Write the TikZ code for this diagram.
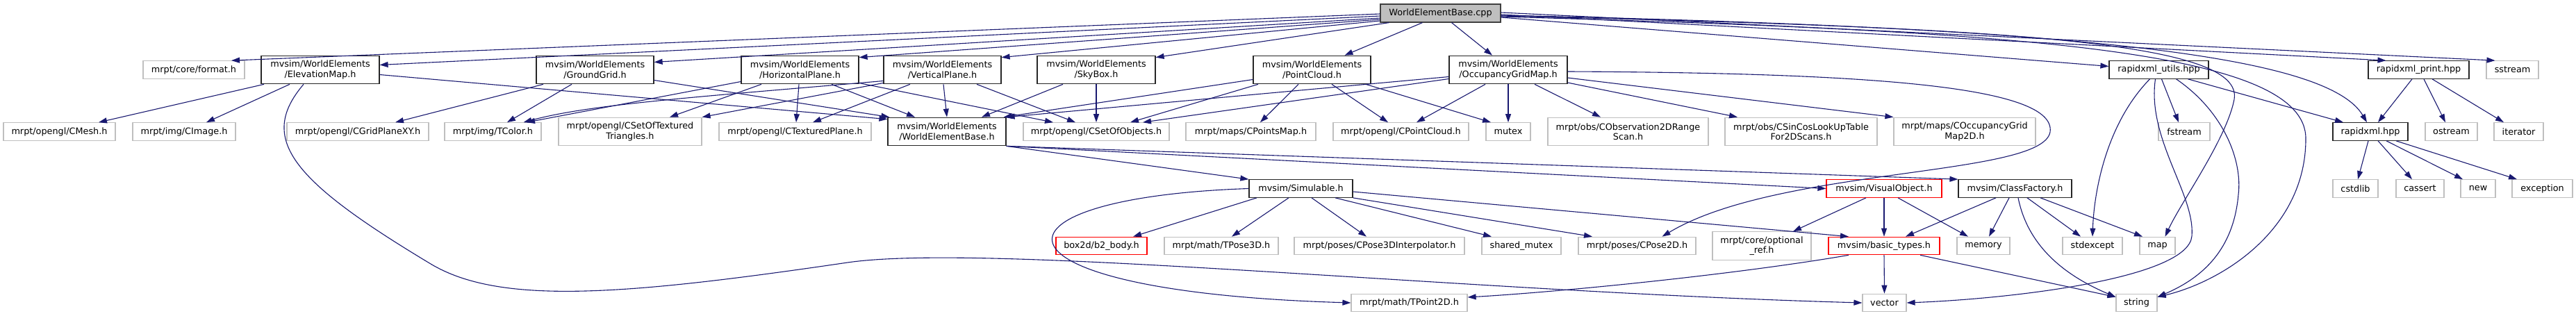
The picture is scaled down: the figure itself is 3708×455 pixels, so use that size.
\documentclass[tikz,border=0pt]{standalone}
\usepackage{fontspec}
\setmainfont{DejaVu Sans}
\usetikzlibrary{arrows.meta}
\definecolor{edgeblue}{HTML}{191970}

\begin{document}
\begin{tikzpicture}[
        x=1pt, y=-1pt,
        every node/.style={font=\fontsize{12.8}{14.5}\selectfont, inner xsep=2pt, inner ysep=1pt, align=center, line width=1.2pt},
        hdr/.style={rectangle, draw=black!85, minimum height=25.5pt},
        leaf/.style={rectangle, draw=black!25, minimum height=25.5pt},
        missing/.style={rectangle, draw=red, minimum height=25.5pt},
        root/.style={rectangle, draw=black!75, fill=black!25, minimum height=26pt},
        tall/.style={minimum height=40.5pt},
        dep/.style={-{Triangle[length=12pt,width=8pt]}, draw=edgeblue, line width=1.1pt}
    ]
        \useasboundingbox (0,0) rectangle (3708,455);

        % Nodes
        \node[root, minimum width=173pt] (cpp) at (2073.5,19) {WorldElementBase.cpp};

        \node[leaf, minimum width=146pt] (format) at (279,100.5) {mrpt/core/format.h};
        \node[hdr, tall, minimum width=170pt] (elev) at (461,100.5) {mvsim/WorldElements\\/ElevationMap.h};
        \node[hdr, tall, minimum width=169pt] (ground) at (856.5,100.5) {mvsim/WorldElements\\/GroundGrid.h};
        \node[hdr, tall, minimum width=169pt] (hplane) at (1151.5,100.5) {mvsim/WorldElements\\/HorizontalPlane.h};
        \node[hdr, tall, minimum width=169pt] (vplane) at (1356.5,100.5) {mvsim/WorldElements\\/VerticalPlane.h};
        \node[hdr, tall, minimum width=170pt] (skybox) at (1578,100.5) {mvsim/WorldElements\\/SkyBox.h};
        \node[hdr, tall, minimum width=169pt] (pcloud) at (1888.5,100.5) {mvsim/WorldElements\\/PointCloud.h};
        \node[hdr, tall, minimum width=170pt] (ogmap) at (2171,100.5) {mvsim/WorldElements\\/OccupancyGridMap.h};
        \node[hdr, minimum width=143pt] (rxutils) at (3107.5,100.5) {rapidxml\_utils.hpp};
        \node[hdr, minimum width=145pt] (rxprint) at (3481.5,100.5) {rapidxml\_print.hpp};
        \node[leaf, minimum width=75pt] (sstream) at (3616.5,100.5) {sstream};

        \node[leaf, minimum width=161pt] (cmesh) at (85.5,189.5) {mrpt/opengl/CMesh.h};
        \node[leaf, minimum width=148pt] (cimage) at (265,189.5) {mrpt/img/CImage.h};
        \node[leaf, minimum width=204pt] (cgridxy) at (515,189.5) {mrpt/opengl/CGridPlaneXY.h};
        \node[leaf, minimum width=139pt] (tcolor) at (709.5,189.5) {mrpt/img/TColor.h};
        \node[leaf, tall, minimum width=206pt] (ctritex) at (907,189.5) {mrpt/opengl/CSetOfTextured\\Triangles.h};
        \node[leaf, minimum width=219pt] (ctexplane) at (1144.5,189.5) {mrpt/opengl/CTexturedPlane.h};
        \node[hdr, tall, minimum width=170pt] (web) at (1363,189.5) {mvsim/WorldElements\\/WorldElementBase.h};
        \node[leaf, minimum width=210pt] (csetobj) at (1578,189.5) {mrpt/opengl/CSetOfObjects.h};
        \node[leaf, minimum width=187pt] (cpointsmap) at (1800.5,189.5) {mrpt/maps/CPointsMap.h};
        \node[leaf, minimum width=195pt] (cpointcloud) at (2016.5,189.5) {mrpt/opengl/CPointCloud.h};
        \node[leaf, minimum width=64pt] (mutex) at (2171,189.5) {mutex};
        \node[leaf, tall, minimum width=231pt] (cobs2d) at (2343.5,189.5) {mrpt/obs/CObservation2DRange\\Scan.h};
        \node[leaf, tall, minimum width=219pt] (csincos) at (2592.5,189.5) {mrpt/obs/CSinCosLookUpTable\\For2DScans.h};
        \node[leaf, tall, minimum width=204pt] (coccmap) at (2828,189.5) {mrpt/maps/COccupancyGrid\\Map2D.h};
        \node[leaf, minimum width=74pt] (fstream) at (3144,189.5) {fstream};
        \node[hdr, minimum width=108pt] (rxml) at (3412,189.5) {rapidxml.hpp};
        \node[leaf, minimum width=75pt] (ostream) at (3528.5,189.5) {ostream};
        \node[leaf, minimum width=71pt] (iterator) at (3625.5,189.5) {iterator};

        \node[hdr, minimum width=149pt] (simulable) at (1872.5,271.5) {mvsim/Simulable.h};
        \node[missing, minimum width=166pt] (visualobj) at (2712,271.5) {mvsim/VisualObject.h};
        \node[hdr, minimum width=163pt] (classfactory) at (2900.5,271.5) {mvsim/ClassFactory.h};
        \node[leaf, minimum width=65pt] (cstdlib) at (3390.5,271.5) {cstdlib};
        \node[leaf, minimum width=69pt] (cassert) at (3483.5,271.5) {cassert};
        \node[leaf, minimum width=50pt] (new) at (3567,271.5) {new};
        \node[leaf, minimum width=87pt] (exception) at (3659.5,271.5) {exception};

        \node[missing, minimum width=131pt] (box2d) at (1585.5,354) {box2d/b2\_body.h};
        \node[leaf, minimum width=164pt] (tpose3d) at (1758,354) {mrpt/math/TPose3D.h};
        \node[leaf, minimum width=245pt] (cpose3di) at (1985.5,354) {mrpt/poses/CPose3DInterpolator.h};
        \node[leaf, minimum width=114pt] (sharedmutex) at (2190,354) {shared\_mutex};
        \node[leaf, minimum width=169pt] (cpose2d) at (2356.5,354) {mrpt/poses/CPose2D.h};
        \node[leaf, tall, minimum width=142pt] (optref) at (2536,354) {mrpt/core/optional\\\_ref.h};
        \node[missing, minimum width=160pt] (basictypes) at (2712,354) {mvsim/basic\_types.h};
        \node[leaf, minimum width=76pt] (memory) at (2855,354) {memory};
        \node[leaf, minimum width=86pt] (stdexcept) at (3012,354) {stdexcept};
        \node[leaf, minimum width=51pt] (map) at (3105.5,354) {map};

        \node[leaf, minimum width=167pt] (tpoint2d) at (2028.5,436) {mrpt/math/TPoint2D.h};
        \node[leaf, minimum width=63pt] (vector) at (2712.5,436) {vector};
        \node[leaf, minimum width=59pt] (string) at (3075.5,436) {string};

        % Arrows
        \draw[dep] ([yshift=-1pt]cpp.west) -- ([xshift=54pt]format.north);
        \draw[dep] ([yshift=-4pt]cpp.west) -- ([yshift=7pt]elev.east);
        \draw[dep] ([yshift=-7pt]cpp.west) -- ([yshift=11pt]ground.east);
        \draw[dep] ([yshift=-9pt]cpp.west) -- ([yshift=-3pt]hplane.north east);
        \draw[dep] ([yshift=-11pt]cpp.west) -- ([yshift=-3pt]vplane.north east);
        \draw[dep] ([xshift=-74pt]cpp.south) -- ([yshift=-3pt]skybox.north east);
        \draw[dep] ([xshift=-26pt]cpp.south) -- ([xshift=47pt]pcloud.north);
        \draw[dep] ([xshift=16pt]cpp.south) -- ([xshift=-23pt]ogmap.north);
        \draw[dep] ([yshift=-6pt]cpp.east) -- ([yshift=5pt]rxutils.west);
        \draw[dep] ([yshift=-2pt]cpp.east) -- ([xshift=-47pt]rxprint.north);
        \draw[dep] ([yshift=1pt]cpp.east) -- ([xshift=-25pt]sstream.north);
        \draw[dep] ([yshift=-3pt]cpp.east) .. controls (3000,40) and (3350,80) .. ([xshift=-5pt]rxml.north);
        \draw[dep] ([yshift=-4pt]cpp.east) .. controls (2900,40) and (3230,60) .. (3216,143) .. controls (3205,200) and (3140,290) .. ([xshift=11pt]map.north);
        \draw[dep] ([yshift=-5pt]cpp.east) .. controls (2900,45) and (3320,70) .. (3319,200) .. controls (3319,330) and (3200,405) .. ([yshift=-5pt]string.north east);

        \draw[dep] ([xshift=-81pt]elev.south) -- ([xshift=56.5pt]cmesh.north);
        \draw[dep] ([xshift=-44pt]elev.south) -- ([xshift=32pt]cimage.north);
        \draw[dep] ([yshift=-7pt]elev.east) -- ([yshift=-3pt]web.north west);
        \draw[dep] ([xshift=-24pt]elev.south) .. controls (370,200) and (420,260) .. (620,380) .. controls (720,440) and (900,425) .. (1220,378) .. controls (1420,349) and (2100,420) .. (vector.west);

        \draw[dep] ([xshift=-74.5pt]ground.south) -- ([xshift=54pt]cgridxy.north);
        \draw[dep] ([xshift=-33.5pt]ground.south) -- ([xshift=20.5pt]tcolor.north);
        \draw[dep] ([yshift=-15pt]ground.east) -- ([xshift=3pt]web.north west);

        \draw[dep] ([yshift=-17pt]hplane.west) -- ([xshift=48.5pt]tcolor.north);
        \draw[dep] ([xshift=-55.5pt]hplane.south) -- ([xshift=57pt]ctritex.north);
        \draw[dep] ([xshift=-1.5pt]hplane.south) -- ([xshift=1.5pt]ctexplane.north);
        \draw[dep] ([xshift=45.5pt]hplane.south) -- ([xshift=-46pt]web.north);
        \draw[dep] ([yshift=-19pt]hplane.east) -- ([xshift=-62pt]csetobj.north);

        \draw[dep] ([yshift=-16pt]vplane.west) .. controls (1000,140) and (850,150) .. ([xshift=44pt]tcolor.north);
        \draw[dep] ([yshift=-19pt]vplane.west) -- (ctritex.north east);
        \draw[dep] ([xshift=-46.5pt]vplane.south) -- ([xshift=25.5pt]ctexplane.north);
        \draw[dep] ([xshift=1.5pt]vplane.south) -- (web.north);
        \draw[dep] ([xshift=49.5pt]vplane.south) -- ([xshift=-30pt]csetobj.north);

        \draw[dep] ([xshift=-48pt]skybox.south) -- ([xshift=50pt]web.north);
        \draw[dep] (skybox.south) -- (csetobj.north);

        \draw[dep] ([yshift=-14pt]pcloud.west) -- ([xshift=-4pt]web.north east);
        \draw[dep] ([xshift=-77.5pt]pcloud.south) -- ([xshift=49pt]csetobj.north);
        \draw[dep] ([xshift=-19.5pt]pcloud.south) -- ([xshift=13.5pt]cpointsmap.north);
        \draw[dep] ([xshift=28.5pt]pcloud.south) -- ([xshift=-18.5pt]cpointcloud.north);
        \draw[dep] ([xshift=77.5pt]pcloud.south) -- ([xshift=-25pt]mutex.north);

        \draw[dep] ([yshift=-10pt]ogmap.west) -- (web.north east);
        \draw[dep] ([yshift=-13pt]ogmap.west) -- ([xshift=67pt]csetobj.north);
        \draw[dep] ([xshift=-33pt]ogmap.south) -- ([xshift=22.5pt]cpointcloud.north);
        \draw[dep] (ogmap.south) -- (mutex.north);
        \draw[dep] ([xshift=38pt]ogmap.south) -- ([xshift=-39.5pt]cobs2d.north);
        \draw[dep] ([yshift=-18.5pt]ogmap.east) -- ([xshift=-91.5pt]csincos.north);
        \draw[dep] ([yshift=-11.5pt]ogmap.east) -- (coccmap.north west);
        \draw[dep] ([yshift=-2.5pt]ogmap.east) .. controls (2700,105) and (2960,125) .. (2951,190) .. controls (2940,255) and (2560,240) .. ([xshift=36pt]cpose2d.north);

        \draw[dep] (web.south east) -- (simulable.north west);
        \draw[dep] (web.south east) -- (visualobj.west);
        \draw[dep] (web.south east) -- (classfactory.north west);

        \draw[dep] ([xshift=-63.5pt]simulable.south) -- ([xshift=45.5pt]box2d.north);
        \draw[dep] ([xshift=-17.5pt]simulable.south) -- ([xshift=15pt]tpose3d.north);
        \draw[dep] ([xshift=15.5pt]simulable.south) -- ([xshift=-18.5pt]cpose3di.north);
        \draw[dep] ([xshift=49.5pt]simulable.south) -- ([xshift=-43pt]sharedmutex.north);
        \draw[dep] (simulable.south east) -- ([xshift=-64.5pt]cpose2d.north);
        \draw[dep] ([yshift=-4.5pt]simulable.east) -- ([xshift=-51pt]basictypes.north);
        \draw[dep] (simulable.west) .. controls (1400,285) and (1400,420) .. (tpoint2d.west);

        \draw[dep] ([xshift=-26pt]visualobj.south) -- ([xshift=45pt]optref.north);
        \draw[dep] (visualobj.south) -- (basictypes.north);
        \draw[dep] ([xshift=20pt]visualobj.south) -- ([xshift=-22pt]memory.north);

        \draw[dep] ([xshift=-27.5pt]classfactory.south) -- ([xshift=31pt]basictypes.north);
        \draw[dep] ([xshift=-8.5pt]classfactory.south) -- ([xshift=8pt]memory.north);
        \draw[dep] ([xshift=4.5pt]classfactory.south) .. controls (2920,360) and (2980,400) .. ([yshift=-5pt]string.north west);
        \draw[dep] ([xshift=17.5pt]classfactory.south) -- ([xshift=-17pt]stdexcept.north);
        \draw[dep] ([xshift=36.5pt]classfactory.south) -- ([xshift=-21.5pt]map.north);

        \draw[dep] (basictypes.south) -- (vector.north);
        \draw[dep] ([xshift=52pt]basictypes.south) -- ([yshift=-5pt]string.north west);
        \draw[dep] ([xshift=-51pt]basictypes.south) .. controls (2500,395) and (2250,420) .. ([yshift=8pt]tpoint2d.east);

        \draw[dep] ([xshift=-13pt]rxutils.south) .. controls (3030,180) and (3014,280) .. (stdexcept.north);
        \draw[dep] ([xshift=-5pt]rxutils.south) .. controls (3090,200) and (3160,280) .. (3155,340) .. controls (3150,400) and (2900,430) .. (vector.east);
        \draw[dep] ([xshift=4pt]rxutils.south) -- ([xshift=-8pt]fstream.north);
        \draw[dep] ([xshift=25pt]rxutils.south) .. controls (3200,160) and (3228,230) .. (3222,280) .. controls (3215,360) and (3170,400) .. ([yshift=-5pt]string.north east);
        \draw[dep] ([xshift=42pt]rxutils.south) -- ([xshift=-39pt]rxml.north);

        \draw[dep] ([xshift=-9.5pt]rxprint.south) -- ([xshift=11pt]rxml.north);
        \draw[dep] ([xshift=7.5pt]rxprint.south) -- ([xshift=-8.5pt]ostream.north);
        \draw[dep] ([xshift=19.5pt]rxprint.south) -- ([xshift=-21.5pt]iterator.north);

        \draw[dep] ([xshift=-3pt]rxml.south) -- ([xshift=3.5pt]cstdlib.north);
        \draw[dep] ([xshift=11pt]rxml.south) -- ([xshift=-11.5pt]cassert.north);
        \draw[dep] ([xshift=23pt]rxml.south) -- ([xshift=-22pt]new.north);
        \draw[dep] ([xshift=37pt]rxml.south) -- ([xshift=-36.5pt]exception.north);

    \end{tikzpicture}
\end{document}
